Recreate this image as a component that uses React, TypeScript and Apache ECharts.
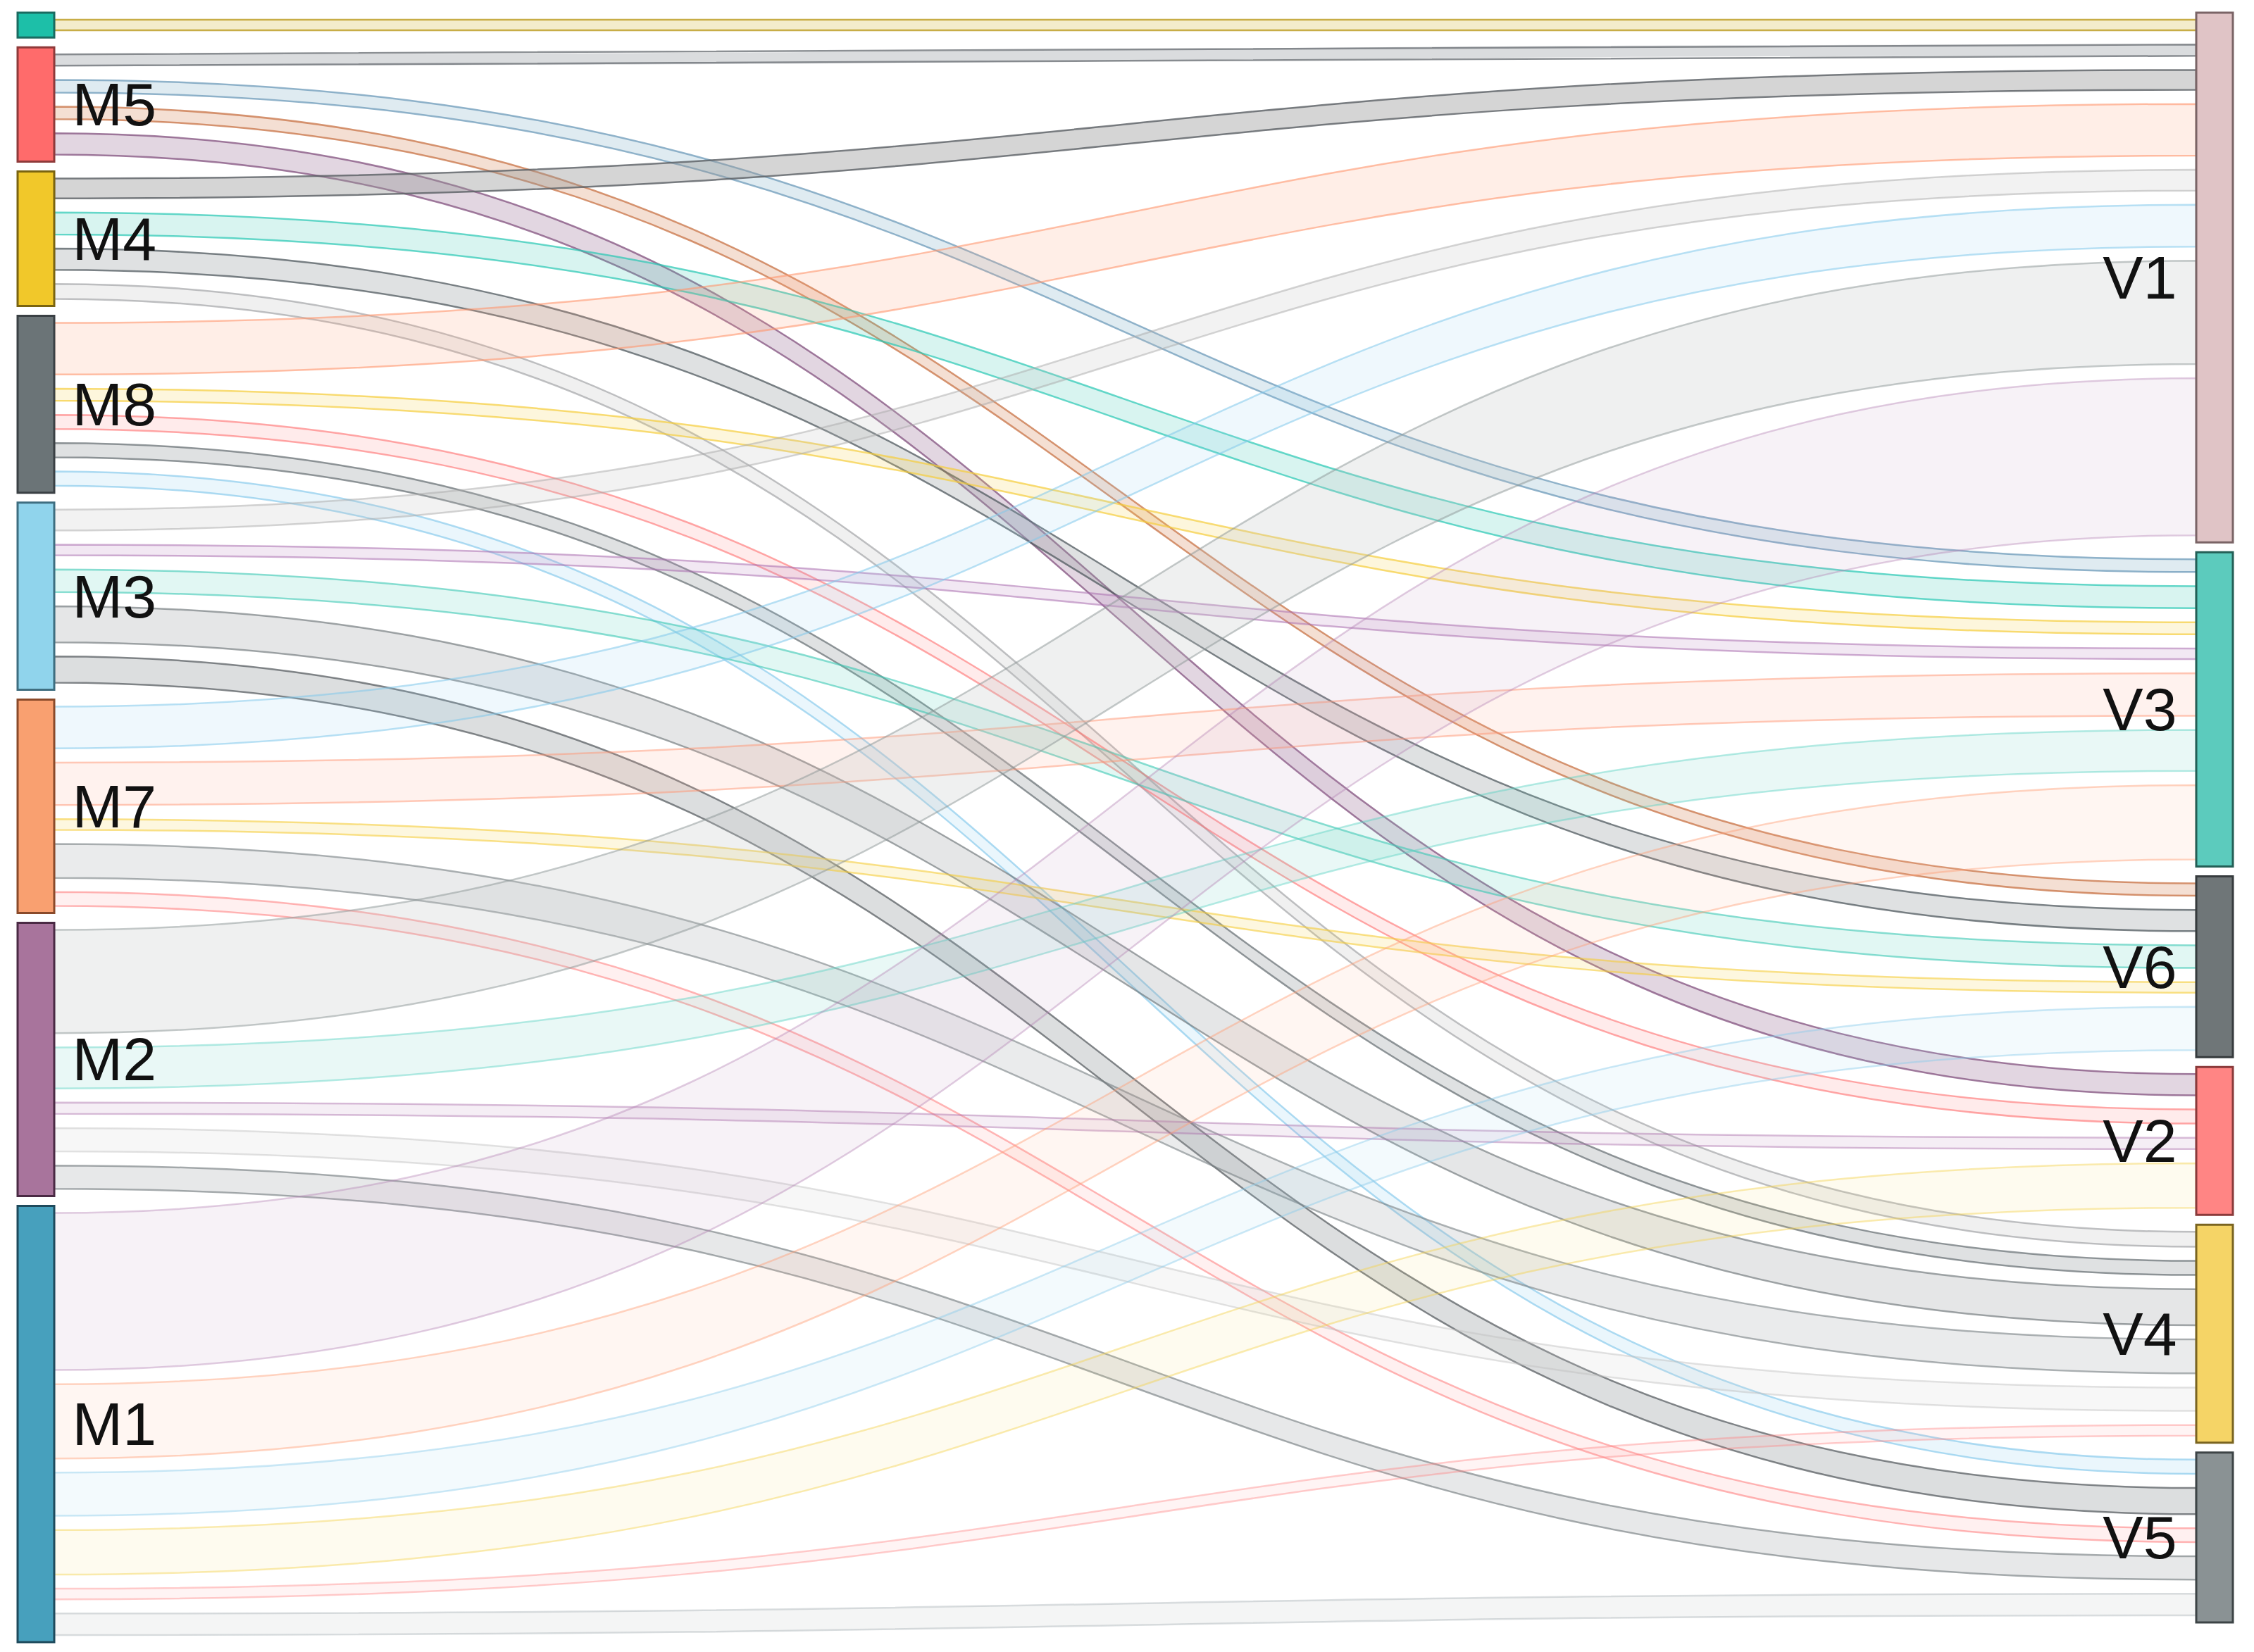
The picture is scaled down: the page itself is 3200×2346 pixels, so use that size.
import React, { useEffect, useRef } from "react";
import * as echarts from "echarts";

// ---- nodes ----
const leftNodes = ["M6", "M5", "M4", "M8", "M3", "M7", "M2", "M1"];
const leftNodeLabels = [false, true, true, true, true, true, true, true];
const rightNodes = ["V1", "V3", "V6", "V2", "V4", "V5"];

const leftNodeColors = ["#1dbfa8", "#ff6b6b", "#f1c82a", "#6b7477", "#90d4ec", "#f9a070", "#a8749c", "#47a0bd"];
const leftNodeBorders = ["#1b6a60", "#8e3a3a", "#7a6410", "#3a4044", "#3e6e80", "#8a4a2a", "#4a2a44", "#1e4a5c"];
const rightNodeColors = ["#e0c4c6", "#5ccbbd", "#6f7678", "#ff8584", "#f5d466", "#8a9294"];
const rightNodeBorders = ["#7a6466", "#235f56", "#363b3d", "#8a3a3a", "#7a6420", "#3d4446"];

// ---- links ----
const linkSources = [
  "M6",
  "M5", "M5", "M5", "M5",
  "M4", "M4", "M4", "M4",
  "M8", "M8", "M8", "M8", "M8",
  "M3", "M3", "M3", "M3", "M3",
  "M7", "M7", "M7", "M7", "M7",
  "M2", "M2", "M2", "M2", "M2",
  "M1", "M1", "M1", "M1", "M1", "M1",
];
const linkTargets = [
  "V1",
  "V1", "V3", "V6", "V2",
  "V1", "V3", "V6", "V4",
  "V1", "V3", "V2", "V4", "V5",
  "V1", "V3", "V6", "V4", "V5",
  "V1", "V3", "V6", "V4", "V5",
  "V1", "V3", "V2", "V4", "V5",
  "V1", "V3", "V6", "V2", "V4", "V5",
];
const linkValues = [
  15,
  16, 18, 17.5, 30,
  28, 31, 30, 21,
  73, 17, 20, 20, 20,
  29.5, 15, 32, 51, 37,
  59, 60, 15, 48, 19.5,
  146, 58, 16, 33, 33,
  222, 105, 61, 63, 15, 30.5,
];

// ---- link styles ----
const linkStroke = [
  "rgba(190,160,40,0.85)",
  "rgba(110,115,120,0.8)", "rgba(110,155,185,0.75)", "rgba(200,115,70,0.75)", "rgba(130,80,125,0.75)",
  "rgba(90,95,100,0.8)", "rgba(40,200,180,0.7)", "rgba(80,90,95,0.75)", "rgba(150,152,155,0.6)",
  "rgba(255,150,110,0.6)", "rgba(245,205,60,0.7)", "rgba(255,110,110,0.6)", "rgba(100,108,112,0.7)", "rgba(130,200,235,0.65)",
  "rgba(170,170,170,0.5)", "rgba(170,110,175,0.55)", "rgba(60,200,180,0.6)", "rgba(110,118,122,0.65)", "rgba(80,86,90,0.7)",
  "rgba(130,200,235,0.55)", "rgba(255,150,115,0.5)", "rgba(245,205,60,0.6)", "rgba(120,128,132,0.6)", "rgba(255,110,110,0.5)",
  "rgba(140,150,150,0.5)", "rgba(90,210,195,0.45)", "rgba(170,110,170,0.45)", "rgba(190,190,190,0.45)", "rgba(110,118,122,0.6)",
  "rgba(180,130,180,0.4)", "rgba(255,160,120,0.45)", "rgba(140,205,235,0.45)", "rgba(245,210,80,0.45)", "rgba(255,130,130,0.4)", "rgba(150,160,165,0.35)",
];
const linkFill = [
  "rgba(220,200,110,0.35)",
  "rgba(150,155,160,0.35)", "rgba(150,190,210,0.3)", "rgba(220,150,110,0.3)", "rgba(160,120,155,0.3)",
  "rgba(150,150,150,0.4)", "rgba(60,200,180,0.2)", "rgba(150,155,158,0.3)", "rgba(180,180,180,0.2)",
  "rgba(255,160,120,0.18)", "rgba(245,210,80,0.2)", "rgba(255,120,120,0.15)", "rgba(150,155,158,0.3)", "rgba(150,210,240,0.2)",
  "rgba(190,190,190,0.2)", "rgba(190,140,195,0.2)", "rgba(90,210,190,0.18)", "rgba(150,155,158,0.25)", "rgba(140,145,148,0.3)",
  "rgba(150,210,240,0.15)", "rgba(255,170,140,0.15)", "rgba(245,210,80,0.18)", "rgba(160,165,168,0.22)", "rgba(255,130,130,0.12)",
  "rgba(190,195,195,0.25)", "rgba(110,210,195,0.15)", "rgba(190,140,190,0.15)", "rgba(210,210,210,0.18)", "rgba(160,165,168,0.25)",
  "rgba(190,150,190,0.12)", "rgba(255,180,150,0.12)", "rgba(160,215,240,0.12)", "rgba(250,220,120,0.12)", "rgba(255,150,150,0.1)", "rgba(180,185,188,0.15)",
];

// visual padding between links at a node (in value units)
const LINK_GAP = 20;

export default function App() {
  const ref = useRef<HTMLDivElement>(null);

  useEffect(() => {
    if (!ref.current) return;
    const chart = echarts.init(ref.current, undefined, { renderer: "svg" });

    const nodes: any[] = [];
    leftNodes.forEach((name, i) => {
      nodes.push({
        name,
        itemStyle: { color: leftNodeColors[i], borderColor: leftNodeBorders[i], borderWidth: 3 },
        label: { show: leftNodeLabels[i], position: "right", distance: 24 },
      });
    });
    rightNodes.forEach((name, i) => {
      nodes.push({
        name,
        itemStyle: { color: rightNodeColors[i], borderColor: rightNodeBorders[i], borderWidth: 3 },
        label: { show: true, position: "left", distance: 26 },
      });
    });

    const spacerStyle = { color: "rgba(0,0,0,0)", borderWidth: 0, opacity: 0 };
    const links: any[] = [];
    linkValues.forEach((v, i) => {
      const s = linkSources[i];
      const t = linkTargets[i];
      links.push({ source: s, target: t, value: LINK_GAP / 2, lineStyle: spacerStyle });
      links.push({
        source: s,
        target: t,
        value: v,
        lineStyle: { color: linkFill[i], borderColor: linkStroke[i], borderWidth: 2.5, opacity: 1 },
      });
      links.push({ source: s, target: t, value: LINK_GAP / 2, lineStyle: spacerStyle });
    });

    chart.setOption({
      animation: false,
      backgroundColor: "#ffffff",
      series: [
        {
          type: "sankey",
          left: 25,
          right: 30,
          top: 18,
          bottom: 14,
          nodeWidth: 52,
          nodeGap: 14,
          layoutIterations: 0,
          draggable: false,
          silent: true,
          emphasis: { disabled: true },
          data: nodes,
          links,
          lineStyle: { opacity: 1, curveness: 0.5 },
          label: {
            fontFamily: "Liberation Sans",
            fontSize: 86,
            color: "#111111",
          },
        },
      ],
    });

    return () => {
      chart.dispose();
    };
  }, []);

  return (
    <div
      ref={ref}
      style={{ position: "absolute", left: 0, top: 0, width: 3200, height: 2346, background: "#fff" }}
    />
  );
}
